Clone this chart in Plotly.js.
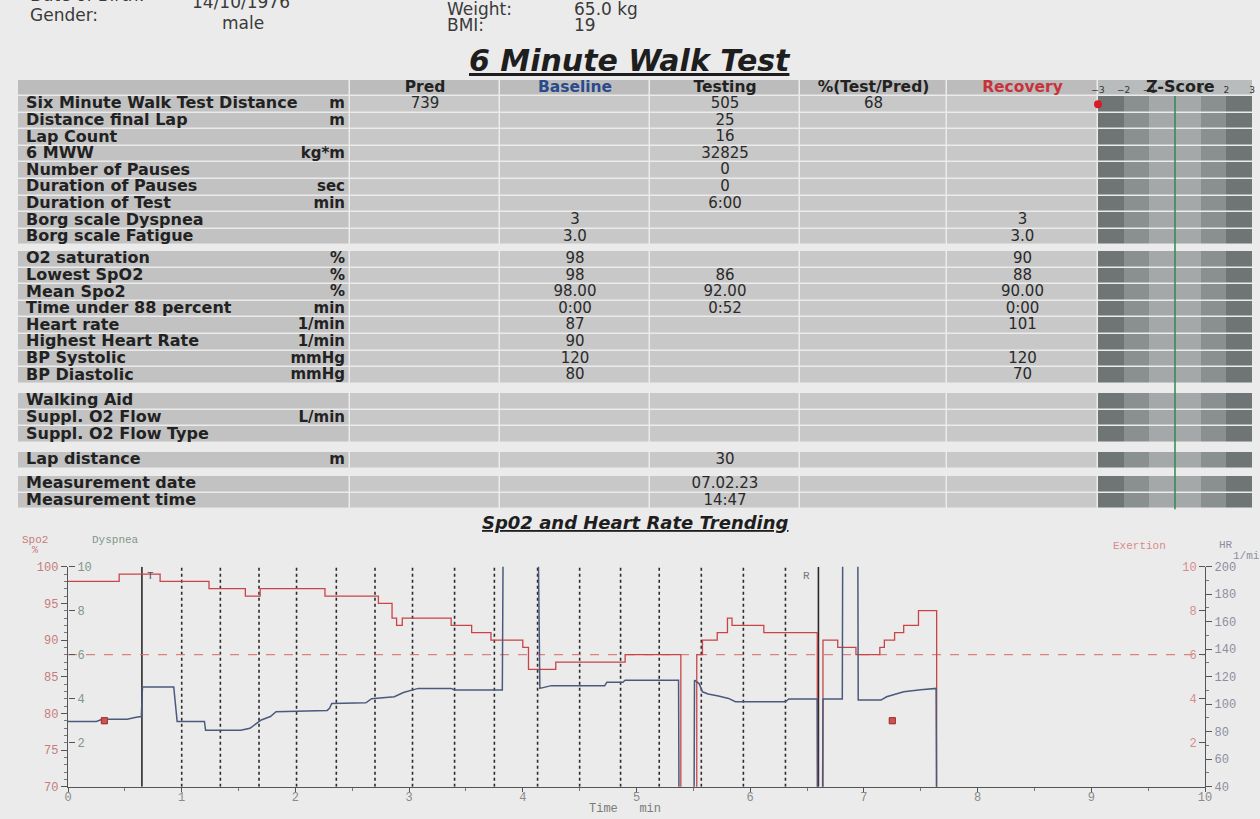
<!DOCTYPE html>
<html>
<head>
<meta charset="utf-8">
<script src="https://cdn.plot.ly/plotly-3.0.1.min.js"></script>
<style>
html,body{margin:0;padding:0;background:#ebebeb;}
#chart{width:1260px;height:819px;}
</style>
</head>
<body>
<div id="chart"></div>
<script>
// ---------------- DATA ----------------
const columnHeaders = ['', 'Pred', 'Baseline', 'Testing', '%(Test/Pred)', 'Recovery'];
const rowLabels = ['Six Minute Walk Test Distance', 'Distance final Lap', 'Lap Count', '6 MWW',
  'Number of Pauses', 'Duration of Pauses', 'Duration of Test', 'Borg scale Dyspnea', 'Borg scale Fatigue',
  'O2 saturation', 'Lowest SpO2', 'Mean Spo2', 'Time under 88 percent', 'Heart rate', 'Highest Heart Rate',
  'BP Systolic', 'BP Diastolic',
  'Walking Aid', 'Suppl. O2 Flow', 'Suppl. O2 Flow Type',
  'Lap distance',
  'Measurement date', 'Measurement time'];
const rowUnits = ['m', 'm', '', 'kg*m', '', 'sec', 'min', '', '',
  '%', '%', '%', 'min', '1/min', '1/min', 'mmHg', 'mmHg',
  '', 'L/min', '',
  'm',
  '', ''];
const predValues = ['739', '', '', '', '', '', '', '', '',
  '', '', '', '', '', '', '', '',
  '', '', '',
  '',
  '', ''];
const baselineValues = ['', '', '', '', '', '', '', '3', '3.0',
  '98', '98', '98.00', '0:00', '87', '90', '120', '80',
  '', '', '',
  '',
  '', ''];
const testingValues = ['505', '25', '16', '32825', '0', '0', '6:00', '', '',
  '', '86', '92.00', '0:52', '', '', '', '',
  '', '', '',
  '30',
  '07.02.23', '14:47'];
const testPredPct = ['68', '', '', '', '', '', '', '', '',
  '', '', '', '', '', '', '', '',
  '', '', '',
  '',
  '', ''];
const recoveryValues = ['', '', '', '', '', '', '', '3', '3.0',
  '90', '88', '90.00', '0:00', '101', '', '120', '70',
  '', '', '',
  '',
  '', ''];
const groupSizes = [9, 8, 3, 1, 2];

const zScoreTicks = [-3, -2, -1, 1, 2, 3];
const zBandEdges = [-3, -2, -1, 0, 1, 2, 3];
const zScore6MWD = -3;   // clipped at the -3 edge

// SpO2 trend (step, %)
const spo2Time = [0, 0.45, 0.81, 1.24, 1.56, 1.69, 2.26, 2.73, 2.85, 2.89, 2.94, 3.37, 3.55, 3.72, 4.0, 4.05, 4.29, 4.9, 5.39, 5.53, 5.58, 5.71, 5.8, 5.84, 6.12, 6.59, 6.64, 6.77, 6.93, 7.14, 7.18, 7.27, 7.35, 7.48, 7.64];
const spo2Value = [98, 99, 98, 97, 96, 97, 96, 95, 93, 92, 93, 92, 91, 90, 89, 86, 87, 88, 0, 88, 90, 91, 93, 92, 91, 0, 90, 89, 88, 89, 90, 91, 92, 94, 0];

// Heart rate trend (1/min)
const hrTime = [0, 0.25, 0.3, 0.52, 0.6, 0.645, 0.655, 0.93, 0.96, 1.2, 1.21, 1.52, 1.6, 1.7, 1.78, 1.83, 2.28, 2.3, 2.32, 2.62, 2.67, 2.87, 2.95, 3.08, 3.37, 3.4, 3.82, 3.83, 4.13, 4.15, 4.25, 4.72, 4.74, 4.88, 4.9, 5.37, 5.375, 5.505, 5.51, 5.55, 5.58, 5.63, 5.72, 5.81, 5.87, 6.31, 6.34, 6.59, 6.595, 6.635, 6.64, 6.81, 6.815, 6.945, 6.95, 7.15, 7.2, 7.35, 7.5, 7.635, 7.64];
const hrValue = [87.5, 87.5, 89, 89, 90.5, 91, 112.5, 112.5, 87.5, 87.5, 81, 81, 82.5, 88.5, 91, 94.5, 95.5, 97, 100.5, 101, 104, 105.5, 108.5, 111.5, 111.5, 110.3, 110.3, 260, 260, 111.5, 113.5, 113.5, 116, 116, 117.5, 117.5, 0, 0, 117.5, 115, 109, 107.4, 106, 104.2, 101.8, 101.8, 103.8, 103.8, 0, 0, 103.8, 103.8, 260, 260, 103, 103, 105.4, 109, 110.5, 111.5, 0];

const lapTimes = [1.0, 1.34, 1.68, 2.01, 2.36, 2.7, 3.03, 3.4, 3.75, 4.13, 4.5, 4.86, 5.2, 5.57, 5.94, 6.31];
const testStart = 0.65;
const recoveryStart = 6.6;
const borgTime = [0.32, 7.25];
const dyspneaScore = [3, 3];
const fatigueScore = [3.0, 3.0];
const spo2Threshold = 88;
const spo2Range = [70, 100];
const hrRange = [40, 200];
const borgRange = [0, 10];
const timeRange = [0, 10];

// ---------------- LAYOUT HELPERS ----------------
const W = 1260, H = 819;
const px = x => x / W;
const py = y => 1 - y / H;
const sans = 'DejaVu Sans, Verdana, sans-serif';
const mono = 'Liberation Mono, DejaVu Sans Mono, monospace';

// table geometry (pixels)
const colEdges = [18, 350, 500, 650, 800, 947, 1098];
const zLeft = 1098, zRight = 1252;
const headerTop = 80, headerH = 16, rowH = 16.6;
const groupTops = [96, 251, 393, 452, 476];
const tblTop = 76, tblBottom = 512;
const colCenters = colEdges.slice(0, -1).map((e, i) => (e + colEdges[i + 1]) / 2);

const rowEdges = [headerTop, headerTop + headerH];
const rowKinds = ['header'];
const rowCenters = [];
let last = headerTop + headerH;
groupSizes.forEach((n, g) => {
  const top = groupTops[g];
  if (top > last + 0.1) { rowEdges.push(top); rowKinds.push('gap'); }
  for (let i = 0; i < n; i++) {
    rowEdges.push(top + (i + 1) * rowH); rowKinds.push('row'); rowCenters.push(top + (i + 0.5) * rowH);
  }
  last = top + n * rowH;
});
const tableBottom = last;

// colour codes: 0-2 z bands, 3 header, 4 label cell, 5 data cell, 6 z header
const shadeScale = [[0, '#6f7474'], [1 / 6, '#8a8f8f'], [2 / 6, '#a4a8a8'], [3 / 6, '#bcbcbc'], [4 / 6, '#c2c2c2'], [5 / 6, '#c8c8c8'], [1, '#b9bcbc']];
const bandShade = [0, 1, 2, 2, 1, 0];
const tableZ = rowKinds.map(k => k === 'header' ? [3, 3, 3, 3, 3, 3] : k === 'gap' ? [null, null, null, null, null, null] : [4, 5, 5, 5, 5, 5]);
const zColZ = rowKinds.map(k => k === 'header' ? bandShade.map(() => 6) : k === 'gap' ? bandShade.map(() => null) : bandShade);

const traces = [];
traces.push({type: 'heatmap', x: colEdges, y: rowEdges, z: tableZ, xaxis: 'x2', yaxis: 'y5',
  colorscale: shadeScale, zmin: 0, zmax: 6, showscale: false, xgap: 1.5, ygap: 1.5, hoverinfo: 'skip'});
traces.push({type: 'heatmap', x: zBandEdges, y: rowEdges, z: zColZ, xaxis: 'x3', yaxis: 'y5',
  colorscale: shadeScale, zmin: 0, zmax: 6, showscale: false, ygap: 1.5, hoverinfo: 'skip'});

const bold = s => s ? '<b>' + s + '</b>' : '';
// header texts
traces.push({type: 'scatter', mode: 'text', xaxis: 'x2', yaxis: 'y5', cliponaxis: false, hoverinfo: 'skip',
  x: colCenters.slice(1), y: colCenters.slice(1).map(() => headerTop + headerH / 2),
  text: columnHeaders.slice(1).map(bold), textposition: 'middle center',
  textfont: {family: sans, size: 15.5, color: ['#222', '#2b4a8c', '#222', '#222', '#c8323a']}});
// row labels
traces.push({type: 'scatter', mode: 'text', xaxis: 'x2', yaxis: 'y5', cliponaxis: false, hoverinfo: 'skip',
  x: rowLabels.map(() => colEdges[0] + 8), y: rowCenters, text: rowLabels.map(bold), textposition: 'middle right',
  textfont: {family: sans, size: 16, color: '#222'}});
// units
traces.push({type: 'scatter', mode: 'text', xaxis: 'x2', yaxis: 'y5', cliponaxis: false, hoverinfo: 'skip',
  x: rowUnits.map(() => colEdges[1] - 5), y: rowCenters, text: rowUnits.map(bold), textposition: 'middle left',
  textfont: {family: sans, size: 15, color: '#222'}});
// values
const valueCols = [predValues, baselineValues, testingValues, testPredPct, recoveryValues];
const vx = [], vy = [], vt = [];
valueCols.forEach((col, ci) => col.forEach((v, ri) => { if (v) { vx.push(colCenters[ci + 1]); vy.push(rowCenters[ri]); vt.push(v); } }));
traces.push({type: 'scatter', mode: 'text', xaxis: 'x2', yaxis: 'y5', cliponaxis: false, hoverinfo: 'skip',
  x: vx, y: vy, text: vt, textposition: 'middle center', textfont: {family: sans, size: 15, color: '#2a2a2a'}});
// z-score marker
traces.push({type: 'scatter', mode: 'markers', x: [zScore6MWD], y: [rowCenters[0]],
  xaxis: 'x3', yaxis: 'y5', cliponaxis: false, marker: {size: 8, color: '#d81c25'}, hoverinfo: 'skip'});

// ---------------- TREND CHART ----------------
const lapX = [], lapY = [];
lapTimes.forEach(t => { lapX.push(t, t, null); lapY.push(spo2Range[0], spo2Range[1], null); });
const evX = [], evY = [];
[testStart, recoveryStart].forEach(t => { evX.push(t, t, null); evY.push(spo2Range[0], spo2Range[1], null); });

traces.push({x: lapX, y: lapY, mode: 'lines', line: {color: '#2a2a2a', width: 1.6, dash: 'dot'}, xaxis: 'x', yaxis: 'y', hoverinfo: 'skip'});
traces.push({x: evX, y: evY, mode: 'lines', line: {color: '#2a2a2a', width: 1.6}, xaxis: 'x', yaxis: 'y', hoverinfo: 'skip'});
traces.push({x: timeRange, y: [spo2Threshold, spo2Threshold], mode: 'lines', line: {color: '#d46a6a', width: 1, dash: 'dash'}, xaxis: 'x', yaxis: 'y', hoverinfo: 'skip'});
traces.push({x: hrTime, y: hrValue, mode: 'lines', line: {color: '#4b5a7c', width: 1.5}, xaxis: 'x', yaxis: 'y3', name: 'HR'});
traces.push({x: spo2Time, y: spo2Value, mode: 'lines', line: {color: '#c94447', width: 1.3, shape: 'hv'}, xaxis: 'x', yaxis: 'y', name: 'SpO2'});
traces.push({x: borgTime, y: dyspneaScore, mode: 'markers', marker: {symbol: 'square', size: 6, color: '#c85555', line: {color: '#a33', width: 1}}, xaxis: 'x', yaxis: 'y2', name: 'Dyspnea'});
traces.push({x: borgTime, y: fatigueScore, mode: 'markers', marker: {symbol: 'square', size: 6, color: '#c85555', line: {color: '#a33', width: 1}}, xaxis: 'x', yaxis: 'y4', name: 'Exertion'});

const axBase = {showgrid: false, zeroline: false, fixedrange: true};
const plotL = 68, plotR = 1205, plotT = 566.7, plotB = 786.7;
const ann = (o) => Object.assign({xref: 'paper', yref: 'paper', showarrow: false, xanchor: 'center', yanchor: 'middle'}, o);
const layout = {
  width: W, height: H,
  margin: {l: 0, r: 0, t: 0, b: 0},
  paper_bgcolor: '#ebebeb', plot_bgcolor: 'rgba(0,0,0,0)',
  showlegend: false,
  xaxis: Object.assign({}, axBase, {
    domain: [px(plotL), px(plotR)], range: timeRange, dtick: 1, anchor: 'y',
    ticks: 'outside', ticklen: 4, tickcolor: '#555', showline: true, linecolor: '#555', linewidth: 1.2,
    ticklabelstandoff: -5,
    tickfont: {family: mono, size: 12, color: '#8a8a8a'},
    minor: {dtick: 0.5, ticks: 'outside', ticklen: 3, tickcolor: '#777'}
  }),
  yaxis: Object.assign({}, axBase, {
    domain: [py(plotB), py(plotT)], range: spo2Range, dtick: 5, anchor: 'x',
    ticks: 'outside', ticklen: 6, tickcolor: '#555', showline: true, linecolor: '#555', linewidth: 1.2,
    tickfont: {family: mono, size: 12, color: '#c77c7c'},
    minor: {dtick: 1, ticks: 'outside', ticklen: 3, tickcolor: '#777'}
  }),
  yaxis2: Object.assign({}, axBase, {
    overlaying: 'y', side: 'right', anchor: 'free', position: px(plotL), range: borgRange, tickvals: [2, 4, 6, 8, 10],
    ticks: 'outside', ticklen: 6, tickcolor: '#555', showline: false,
    tickfont: {family: mono, size: 12, color: '#7f978a'}
  }),
  yaxis3: Object.assign({}, axBase, {
    overlaying: 'y', side: 'right', anchor: 'x', range: hrRange, dtick: 20, tick0: 40,
    ticks: 'outside', ticklen: 6, tickcolor: '#555', showline: true, linecolor: '#555', linewidth: 1.2,
    tickfont: {family: mono, size: 12, color: '#8e8ea0'},
    minor: {dtick: 10, ticks: 'outside', ticklen: 3, tickcolor: '#777'}
  }),
  yaxis4: Object.assign({}, axBase, {
    overlaying: 'y', side: 'left', anchor: 'free', position: px(plotR), range: borgRange, tickvals: [2, 4, 6, 8, 10],
    ticks: 'outside', ticklen: 6, tickcolor: '#555', showline: false,
    tickfont: {family: mono, size: 12, color: '#d98c8c'}
  }),
  xaxis2: Object.assign({}, axBase, {
    domain: [px(colEdges[0]), px(colEdges[colEdges.length - 1])], range: [colEdges[0], colEdges[colEdges.length - 1]],
    anchor: 'y5', showticklabels: false, ticks: '', showline: false
  }),
  xaxis3: Object.assign({}, axBase, {
    domain: [px(zLeft), px(zRight)], range: [zBandEdges[0], zBandEdges[zBandEdges.length - 1]],
    anchor: 'free', position: py(headerTop + headerH - 1), side: 'top',
    tickvals: zScoreTicks, ticks: '', showline: false,
    tickfont: {family: sans, size: 9, color: '#333'}
  }),
  yaxis5: Object.assign({}, axBase, {
    domain: [py(tblBottom), py(tblTop)], range: [tblBottom, tblTop],
    anchor: 'x2', showticklabels: false, ticks: '', showline: false
  }),
  shapes: [
    {type: 'line', xref: 'x3', yref: 'y5', x0: 0, x1: 0, y0: groupTops[0], y1: tableBottom, line: {color: '#2f8a55', width: 1.5}}
  ],
  annotations: [
    {text: 'Date of Birth:', x: px(28), y: py(-5)},
    {text: 'Gender:', x: px(28), y: py(15)},
    {text: '14/10/1976', x: px(190), y: py(2)},
    {text: 'male', x: px(220), y: py(23)},
    {text: 'Weight:', x: px(445), y: py(9)},
    {text: 'BMI:', x: px(445), y: py(25)},
    {text: '65.0 kg', x: px(572), y: py(9)},
    {text: '19', x: px(572), y: py(25)}
  ].map(a => ann(Object.assign({xanchor: 'left', font: {family: sans, size: 17, color: '#3a3a3a'}}, a))).concat([
    ann({text: '<b><i><u>6 Minute Walk Test</u></i></b>', x: px(630), y: py(61), font: {family: sans, size: 30, color: '#1e1e1e'}}),
    ann({text: '<b><i><u>Sp02 and Heart Rate Trending</u></i></b>', x: px(635), y: py(522), font: {family: sans, size: 18, color: '#1e1e1e'}}),
    ann({text: '<b>Z-Score</b>', xref: 'x3', x: 0.2, y: py(87), font: {family: sans, size: 16, color: '#222'}}),
    ann({text: 'T', xref: 'x', yref: 'y', x: testStart, y: spo2Range[1], xanchor: 'left', yanchor: 'top', xshift: 3, yshift: -1, font: {family: mono, size: 11, color: '#555'}}),
    ann({text: 'R', xref: 'x', yref: 'y', x: recoveryStart, y: spo2Range[1], xanchor: 'right', yanchor: 'top', xshift: -6, yshift: -1, font: {family: mono, size: 11, color: '#777'}}),
    ann({text: 'Spo2', x: px(35), y: py(540), font: {family: mono, size: 11, color: '#c77c7c'}}),
    ann({text: '%', x: px(35), y: py(550), font: {family: mono, size: 10, color: '#c77c7c'}}),
    ann({text: 'Dyspnea', x: px(115), y: py(540), font: {family: mono, size: 11, color: '#7f978a'}}),
    ann({text: 'Exertion', x: px(1139), y: py(546), font: {family: mono, size: 11, color: '#d98c8c'}}),
    ann({text: 'HR', x: px(1217), y: py(545), xanchor: 'left', font: {family: mono, size: 11, color: '#8e8ea0'}}),
    ann({text: '1/mi', x: px(1231), y: py(556), xanchor: 'left', font: {family: mono, size: 11, color: '#8e8ea0'}}),
    ann({text: 'Time\u00a0\u00a0\u00a0min', x: px(625), y: py(809), font: {family: mono, size: 12, color: '#7a7a7a'}})
  ])
};

Plotly.newPlot('chart', traces, layout, {staticPlot: true, displayModeBar: false});
</script>
</body>
</html>
